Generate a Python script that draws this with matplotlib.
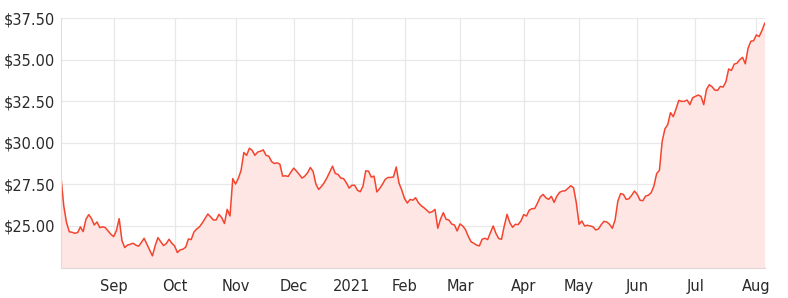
import matplotlib
matplotlib.use("Agg")
import matplotlib.pyplot as plt
from matplotlib.ticker import FuncFormatter
import numpy as np
import pandas as pd

# closing prices per month (ASX trading days)
aug_2020 = [27.92, 26.2, 25.2, 24.65, 24.62, 24.56, 24.6, 24.94, 24.66, 25.4,
            25.68, 25.45, 25.06, 25.24, 24.9, 24.95, 24.9, 24.7, 24.5]
sep_2020 = [24.36, 24.72, 25.44, 24.12, 23.7, 23.85, 23.9, 23.96, 23.85, 23.78, 24.0,
            24.26, 23.9, 23.55, 23.2, 23.82, 24.3, 24.05, 23.82, 23.94, 24.2, 23.96]
oct_2020 = [23.8, 23.4, 23.56, 23.6, 23.72, 24.22, 24.18, 24.64, 24.82, 24.95, 25.18,
            25.45, 25.72, 25.55, 25.36, 25.36, 25.7, 25.5, 25.15, 26.0, 25.6, 27.85]
nov_2020 = [27.52, 27.86, 28.35, 29.42, 29.25, 29.68, 29.55, 29.25, 29.45, 29.5, 29.58,
            29.25, 29.2, 28.88, 28.76, 28.8, 28.72, 28.0, 28.02, 27.98, 28.25]
dec_2020 = [28.48, 28.3, 28.1, 27.88, 28.0, 28.2, 28.52, 28.28, 27.52, 27.2, 27.38,
            27.6, 27.9, 28.25, 28.6, 28.16, 28.1, 27.88, 27.85, 27.6, 27.28]
jan_2021 = [27.45, 27.45, 27.15, 27.06, 27.4, 28.32, 28.3, 27.94, 28.0, 27.05,
            27.25, 27.5, 27.8, 27.92, 27.92, 27.95, 28.55, 27.58, 27.16]
feb_2021 = [26.65, 26.38, 26.6, 26.55, 26.7, 26.4, 26.22, 26.1, 25.95, 25.8,
            25.86, 26.0, 24.86, 25.42, 25.8, 25.4, 25.36, 25.12, 25.06, 24.7]
mar_2021 = [25.12, 25.0, 24.78, 24.38, 24.05, 23.96, 23.85, 23.8, 24.2, 24.26, 24.18, 24.6,
            25.0, 24.55, 24.24, 24.2, 25.0, 25.7, 25.2, 24.92, 25.1, 25.08, 25.3]
apr_2021 = [25.68, 25.6, 25.95, 26.04, 26.05, 26.38, 26.75, 26.9, 26.7, 26.6,
            26.78, 26.42, 26.8, 27.03, 27.1, 27.12, 27.27, 27.42, 27.3, 26.4]
may_2021 = [25.1, 25.3, 25.0, 25.04, 25.0, 24.95, 24.76, 24.82, 25.08, 25.28, 25.24,
            25.1, 24.86, 25.36, 26.5, 26.95, 26.9, 26.6, 26.64, 26.85, 27.1]
jun_2021 = [26.9, 26.55, 26.52, 26.8, 26.85, 27.0, 27.4, 28.15, 28.35, 30.1, 30.85,
            31.1, 31.82, 31.58, 32.05, 32.56, 32.5, 32.5, 32.58, 32.3, 32.72]
jul_2021 = [32.8, 32.88, 32.8, 32.3, 33.22, 33.5, 33.38, 33.18, 33.16, 33.4, 33.36,
            33.68, 34.45, 34.36, 34.74, 34.8, 35.0, 35.15, 34.76, 35.7, 36.12, 36.15]
aug_2021 = [36.5, 36.4, 36.76, 37.2]

asx_holidays = ["2020-12-25", "2020-12-28", "2021-01-01", "2021-01-26",
                "2021-04-02", "2021-04-05", "2021-06-14"]
y_ticks = [25.0, 27.5, 30.0, 32.5, 35.0, 37.5]

prices = (aug_2020 + sep_2020 + oct_2020 + nov_2020 + dec_2020 + jan_2021 + feb_2021
          + mar_2021 + apr_2021 + may_2021 + jun_2021 + jul_2021 + aug_2021)
dates = pd.bdate_range("2020-08-05", "2021-08-05", freq="C", holidays=asx_holidays)
dates = dates[:len(prices)]
x = np.arange(len(prices))

# first trading day of each month -> tick
tick_pos, tick_lab = [], []
for i in range(1, len(dates)):
    if dates[i].month != dates[i - 1].month:
        tick_pos.append(i)
        tick_lab.append(str(dates[i].year) if dates[i].month == 1 else dates[i].strftime("%b"))

fig = plt.figure(figsize=(7.88, 2.98), dpi=100)
ax = fig.add_axes([61 / 788, 1 - 267.5 / 298, (764.7 - 61) / 788, (267.5 - 18.3) / 298])

ymin = 22.5
ax.fill_between(x, prices, ymin, color="#fde6e4", linewidth=0)
ax.plot(x, prices, color="#f4442e", linewidth=1.1)

ax.set_xlim(0, len(prices) - 1)
ax.set_ylim(ymin, 37.5)
ax.set_yticks(y_ticks)
ax.yaxis.set_major_formatter(FuncFormatter(lambda v, p: f"${v:.2f}"))
ax.set_xticks(tick_pos)
ax.set_xticklabels(tick_lab)

ax.grid(True, color="#e8e8e8", linewidth=0.9)
ax.set_axisbelow(True)
ax.tick_params(length=0, labelsize=10.5, colors="#2a2a2a")
ax.tick_params(axis="y", pad=4)
ax.tick_params(axis="x", pad=8)
for side in ["top", "right"]:
    ax.spines[side].set_visible(False)
ax.spines["left"].set_color("#dddddd")
ax.spines["bottom"].set_color("#e2d6d6")

fig.savefig("out.png", dpi=100)
